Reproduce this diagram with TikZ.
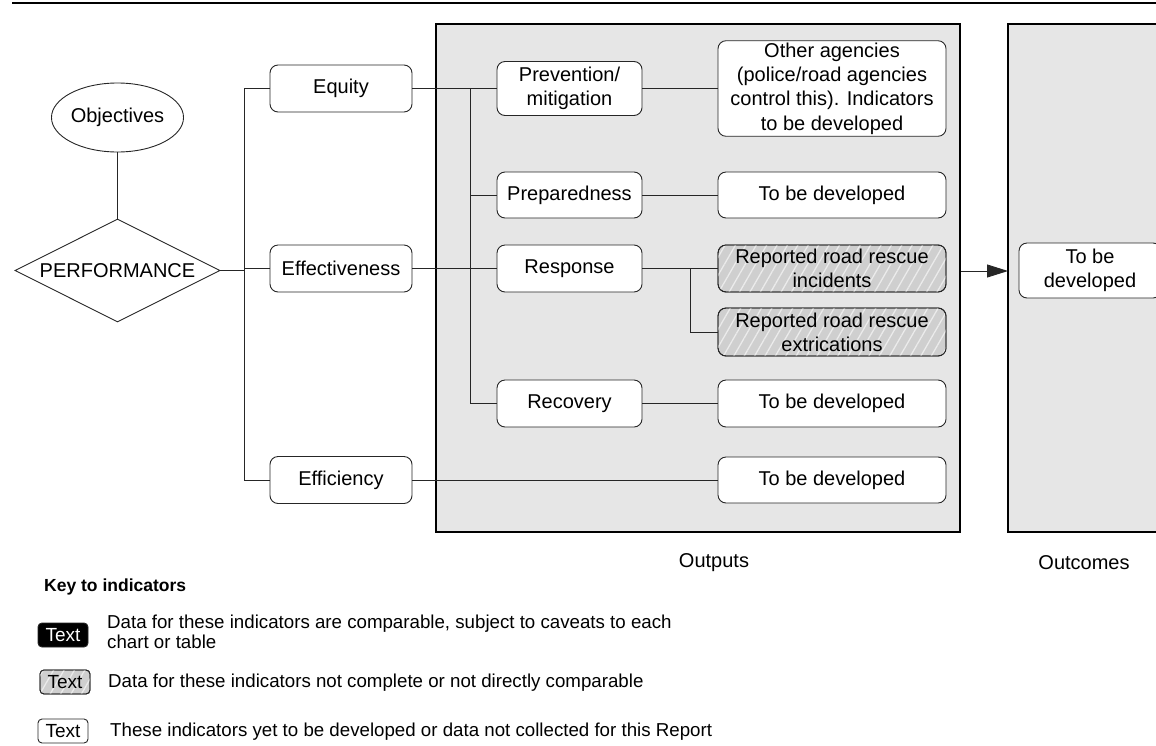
\documentclass[tikz,border=0pt]{standalone}
\usepackage{fontspec}
\setmainfont{Liberation Sans}
\usepackage{xcolor}
\usepackage{tikz}
\usetikzlibrary{calc,arrows.meta,positioning,shapes.geometric,patterns.meta}
\definecolor{linec}{HTML}{262626}
\definecolor{panelc}{HTML}{E6E6E6}
\definecolor{hatchc}{HTML}{CFCFCF}
\definecolor{hlinec}{HTML}{EBEBEB}
\newcommand{\boxfnt}{\fontsize{20}{24.3}\selectfont}
\newcommand{\keyfnt}{\fontsize{18.7}{20.5}\selectfont}
\tikzset{
  ln/.style={line width=0.9pt,linec},
  ar/.style={-{Triangle[length=21pt,width=13pt]},line width=0.9pt,linec},
  box/.style={draw=linec,line width=0.9pt,rounded corners=8pt,fill=white,align=center,inner sep=2pt,font=\boxfnt},
  hbox/.style={box,fill=hatchc,postaction={pattern={Lines[angle=60,distance=9pt,line width=1.3pt]},pattern color=hlinec},postaction={draw=linec,line width=0.9pt}},
  panel/.style={fill=panelc,draw=black,line width=1.6pt,inner sep=0pt},
  lbl/.style={font=\boxfnt,inner sep=0pt},
  keybox/.style={draw=linec,line width=0.9pt,rounded corners=4pt,minimum width=50pt,minimum height=24pt,inner sep=1pt,font=\fontsize{19}{20}\selectfont},
  keytxt/.style={anchor=west,align=left,font=\keyfnt,inner sep=0pt}
}

\begin{document}
\begin{tikzpicture}[x=1pt,y=-1pt]
\useasboundingbox (0,0) rectangle (1156,745);
\draw[line width=2.6pt] (12,3)--(1156,3);
% panels
\node[panel,minimum width=524pt,minimum height=508pt] (outputs) at (698,278) {};
\fill[panelc] (1008,24) rectangle (1160,532);
\draw[line width=1.6pt] (1160,24)--(1008,24)--(1008,532)--(1160,532);
\coordinate (outc) at (1008,271);
% objectives
\node[ellipse,draw=linec,line width=0.9pt,minimum width=114pt,minimum height=69pt,inner sep=0pt,font=\boxfnt] (obj) at (117.5,117.5) {Objectives};
\node[diamond,aspect=2,draw=linec,line width=0.9pt,minimum width=205pt,minimum height=103pt,inner sep=0pt,font=\boxfnt] (perf) at (117.5,270.5) {PERFORMANCE};
\node[box,minimum width=142pt,minimum height=47pt] (equity) at (341,88.5) {Equity};
\node[box,minimum width=142pt,minimum height=47pt] (effect) at (341,268.5) {Effectiveness};
\node[box,minimum width=142pt,minimum height=47pt] (effic) at (341,480) {Efficiency};
% outputs
\node[box,minimum width=145pt,minimum height=54pt] (prev) at (569.5,88.5) {Prevention/\\mitigation};
\node[box,minimum width=145pt,minimum height=46pt] (prep) at (569.5,195) {Preparedness};
\node[box,minimum width=145pt,minimum height=47pt] (resp) at (569.5,268.5) {Response};
\node[box,minimum width=145pt,minimum height=47pt] (recov) at (569.5,403.5) {Recovery};
\node[box,minimum width=228pt,minimum height=95pt] (other) at (832,88.5) {Other agencies\\(police/road agencies\\control this). Indicators\\to be developed};
\node[box,minimum width=228pt,minimum height=46pt] (tbdprep) at (832,195) {To be developed};
\node[hbox,minimum width=228pt,minimum height=47pt] (inc) at (832,268.5) {Reported road rescue\\incidents};
\node[hbox,minimum width=228pt,minimum height=48pt] (extr) at (832,332) {Reported road rescue\\extrications};
\node[box,minimum width=228pt,minimum height=47pt] (tbdrec) at (832,403.5) {To be developed};
\node[box,minimum width=228pt,minimum height=46pt] (tbdeff) at (832,480) {To be developed};
\node[box,minimum width=142pt,minimum height=55pt] (tbdout) at (1090,270.5) {To be\\developed};
% connectors
\coordinate (trunk) at (244,0);
\coordinate (itrunk) at (470,0);
\coordinate (rtrunk) at (690,0);
\draw[ln] (obj)--(perf);
\draw[ln] (perf.east)--(perf.east -| trunk);
\draw[ln] (equity.west) -| (trunk |- effic.west)--(effic.west);
\draw[ln] (effect.west)--(effect.west -| trunk);
\draw[ln] (equity.east)--(prev.west);
\draw[ln] (itrunk |- prev.west) |- (recov.west);
\draw[ln] (itrunk |- prep.west)--(prep.west);
\draw[ln] (effect.east)--(resp.west);
\draw[ln] (prev.east)--(other.west);
\draw[ln] (prep.east)--(tbdprep.west);
\draw[ln] (resp.east)--(inc.west);
\draw[ln] (rtrunk |- resp.east) |- (extr.west);
\draw[ln] (recov.east)--(tbdrec.west);
\draw[ln] (effic.east)--(tbdeff.west);
\draw[ar] (outputs.east |- outc)--(outc);
\node[lbl] (outlbl) at (714,563) {Outputs};
\node[lbl] (outclbl) at (1084,563) {Outcomes};
% key
\node[anchor=west,inner sep=0pt,font=\fontsize{17.5}{20}\selectfont\bfseries] (keyttl) at (44,587) {Key to indicators};
\node[keybox,fill=black,text=white] (key1) at (63,635) {Text};
\node[keytxt] (keyt1) at (107,632) {Data for these indicators are comparable, subject to caveats to each\\chart or table};
\node[keybox,fill=hatchc,postaction={pattern={Lines[angle=60,distance=9pt,line width=1.3pt]},pattern color=hlinec},postaction={draw=linec,line width=0.9pt}] (key2) at (65,682) {Text};
\node[keytxt] (keyt2) at (108,683) {Data for these indicators not complete or not directly comparable};
\node[keybox,fill=white] (key3) at (63,731) {Text};
\node[keytxt] (keyt3) at (110,732) {These indicators yet to be developed or data not collected for this Report};
\end{tikzpicture}
\end{document}
